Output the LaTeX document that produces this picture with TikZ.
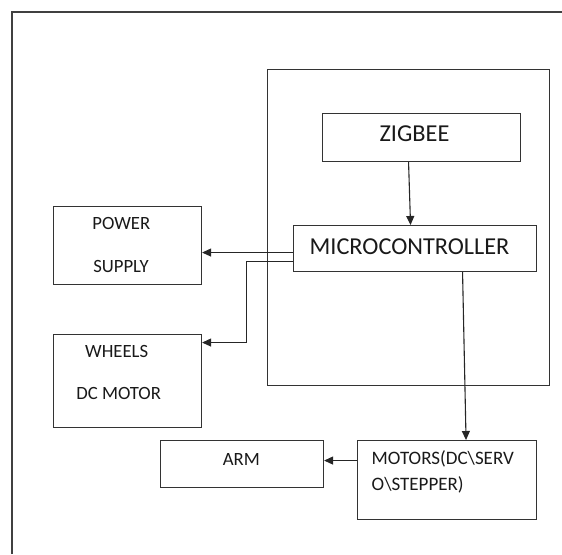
\documentclass[tikz,border=0pt]{standalone}
\usepackage{fontspec}
\setmainfont{Carlito}
\usetikzlibrary{arrows.meta,calc}
\tikzset{
  box/.style={draw=black!80, line width=1.1pt, rectangle, inner sep=0pt, anchor=north west},
  lbl/.style={inner sep=0pt, text=black!90, font=\fontsize{18.7}{20}\selectfont},
  biglbl/.style={inner sep=0pt, text=black!90, font=\fontsize{24.3}{26}\selectfont},
  conn/.style={draw=black!85, line width=1.1pt},
  arr/.style={conn, -{Triangle[length=9pt,width=8pt]}}
}
\begin{document}
\begin{tikzpicture}[x=1pt,y=-1pt]
\useasboundingbox (0,0) rectangle (562,554);
% outer frame (left and top edges visible)
\draw[draw=black!75, line width=1.5pt] (12,554) -- (12,12) -- (562,12);
% big inner box
\node[box, minimum width=282pt, minimum height=316pt] (inner) at (266.5,69) {};
% boxes
\node[box, minimum width=198pt, minimum height=48pt] (zig) at (322,113) {};
\node[box, minimum width=243pt, minimum height=46pt] (micro) at (293,225) {};
\node[box, minimum width=148pt, minimum height=78pt] (pow) at (53,206) {};
\node[box, minimum width=148pt, minimum height=93pt] (whl) at (53,334) {};
\node[box, minimum width=163pt, minimum height=47pt] (arm) at (160,440) {};
\node[box, minimum width=179pt, minimum height=79pt] (mot) at (357,440) {};
% labels
\node[biglbl] (tzig) at (414.5,133.5) {ZIGBEE};
\node[biglbl] (tmicro) at (409.5,246.5) {MICROCONTROLLER};
\node[lbl] (tpow1) at (121.3,223.7) {POWER};
\node[lbl] (tpow2) at (121,266.7) {SUPPLY};
\node[lbl] (twhl1) at (116.7,351) {WHEELS};
\node[lbl] (twhl2) at (118.7,393) {DC MOTOR};
\node[lbl] (tarm) at (241.3,459) {ARM};
\node[lbl, anchor=west, font=\fontsize{19}{20}\selectfont] (tmot1) at (371.5,459) {MOTORS(DC\textbackslash SERV};
\node[lbl, anchor=west, font=\fontsize{19}{20}\selectfont] (tmot2) at (371.5,485) {O\textbackslash STEPPER)};
% connectors
\draw[arr] ($(zig.south)+(-13,0)$) -- ($(micro.north)+(-4.5,0)$);
\draw[arr] ($(micro.south)+(47.5,0)$) -- ($(mot.north)+(19,0)$);
\coordinate (p1) at ($(micro.west)+(0,4)$);
\draw[arr] (p1) -- (p1 -| pow.east);
\coordinate (w1) at ($(micro.west)+(0,13)$);
\coordinate (wa) at ($(whl.east)+(0,-38.5)$);
\coordinate (bend) at (246.5,300);
\draw[arr] (w1) -- (w1 -| bend) -- (bend |- wa) -- (wa);
\coordinate (m1) at ($(mot.west)+(0,-19.5)$);
\draw[arr] (m1) -- (m1 -| arm.east);
\end{tikzpicture}
\end{document}
